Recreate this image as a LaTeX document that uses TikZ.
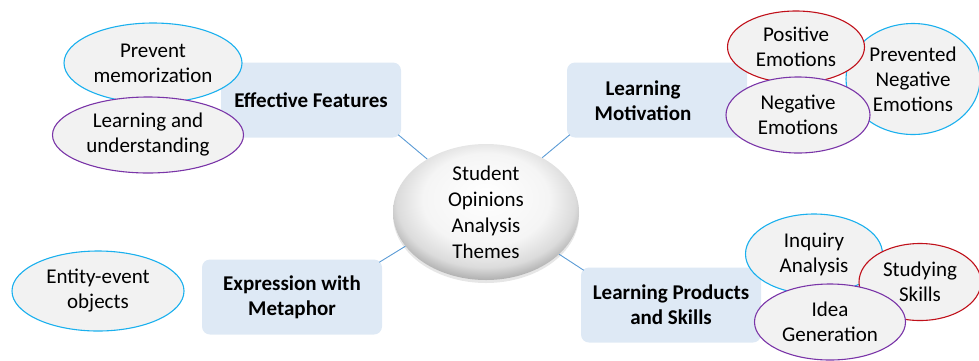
\documentclass[tikz,border=0pt]{standalone}
\usepackage{fontspec}
\setmainfont{Carlito}
\usetikzlibrary{shapes.geometric,shadows}
\definecolor{boxfill}{HTML}{DEE9F5}
\definecolor{cyanb}{HTML}{1AB0EE}
\definecolor{redb}{HTML}{C0101A}
\definecolor{purpb}{HTML}{7A35A8}
\definecolor{ellfill}{HTML}{F2F2F2}
\definecolor{linec}{HTML}{5B9BD5}
\pgfdeclareradialshading{bubble}{\pgfpoint{0bp}{7bp}}{color(0bp)=(white); color(17bp)=(white!96!black); color(24bp)=(black!14); color(29bp)=(black!35); color(33bp)=(black!48); color(50bp)=(black!48)}
\begin{document}
\begin{tikzpicture}[x=1pt,y=-1pt,
  every node/.style={font=\fontsize{21}{25}\selectfont, align=center, inner sep=0pt},
  theme/.style={rounded corners=8pt, fill=boxfill, minimum width=180pt, minimum height=75pt, font=\fontsize{21}{25}\selectfont\bfseries},
  themetext/.style={font=\fontsize{21}{25}\selectfont\bfseries},
  leaf/.style={ellipse, fill=ellfill, line width=1.1pt},
  link/.style={draw=linec, line width=0.9pt}]
\useasboundingbox (0,0) rectangle (979,360);

% center
\node[ellipse, minimum width=186pt, minimum height=136pt, shading=bubble,
      drop shadow={opacity=0.2, shadow xshift=0pt, shadow yshift=-3pt},
      font=\fontsize{21}{26}\selectfont] (c) at (486,212)
      {Student\\Opinions\\Analysis\\Themes};

% themes
\node[theme] (eff) at (311,100) {Effective Features};
\node[theme] (mot) at (657,100) {};
\node[themetext] (mott) at (643,101) {Learning\\Motivation};
\node[theme] (prod) at (671,305) {Learning Products\\and Skills};
\node[theme] (expr) at (292,297) {Expression with\\Metaphor};

% connectors
\draw[link] (c.138) -- ([xshift=-3pt,yshift=3pt]eff.south east);
\draw[link] (c.44) -- ([xshift=3pt,yshift=3pt]mot.south west);
\draw[link] (c.203) -- ([xshift=-3pt,yshift=-3pt]expr.north east);
\draw[link] (c.330) -- ([xshift=3pt,yshift=-3pt]prod.north west);

% leaves: effective features
\node[leaf, draw=cyanb, minimum width=178pt, minimum height=80pt] (prev) at (153,63) {Prevent\\memorization};
\node[leaf, draw=purpb, minimum width=191pt, minimum height=76pt] (learn) at (148,135) {Learning and\\understanding};

% leaves: metaphor
\node[leaf, draw=cyanb, minimum width=172pt, minimum height=80pt] (ent) at (98,291) {Entity-event\\objects};

% leaves: motivation
\node[leaf, draw=cyanb, minimum width=134pt, minimum height=111pt] (pne) at (913,79) {Prevented\\Negative\\Emotions};
\node[leaf, draw=redb, minimum width=137pt, minimum height=72pt] (pos) at (796,47) {Positive\\Emotions};
\node[leaf, draw=purpb, minimum width=144pt, minimum height=76pt] (neg) at (798,115) {Negative\\Emotions};

% leaves: products
\node[leaf, draw=cyanb, minimum width=137pt, minimum height=80pt] (inq) at (814,254) {Inquiry\\Analysis};
\node[leaf, draw=redb, minimum width=122pt, minimum height=77pt] (stu) at (920,282) {Studying\\Skills};
\node[leaf, draw=purpb, minimum width=151pt, minimum height=76pt] (idea) at (830,322) {Idea\\Generation};
\end{tikzpicture}
\end{document}
